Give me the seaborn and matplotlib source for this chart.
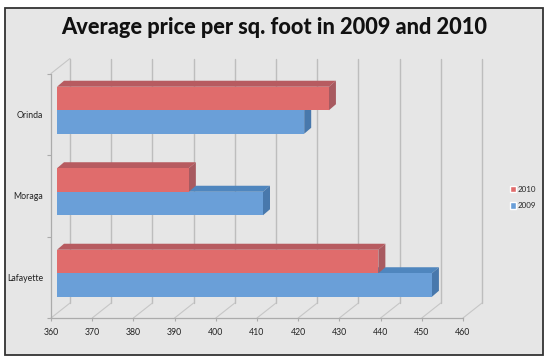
import matplotlib
matplotlib.use("Agg")
import matplotlib.pyplot as plt
import matplotlib.transforms as mtrans
from matplotlib.patches import Polygon, Rectangle
import pandas as pd
import seaborn as sns

cities = ["Orinda", "Moraga", "Lafayette"]
prices_2010 = [426, 392, 438]
prices_2009 = [420, 410, 451]
years = ["2010", "2009"]
title = "Average price per sq. foot in 2009 and 2010"
x_ticks = list(range(360, 461, 10))

W, H = 550, 360
FACE = {"2010": "#E06C6C", "2009": "#6A9FD8"}
TOP = {"2010": "#B75B60", "2009": "#4F86BE"}
SIDE = {"2010": "#A85A60", "2009": "#4878AC"}

sns.set_theme(style="white")
plt.rcParams["font.family"] = ["Lato", "DejaVu Sans"]

fig = plt.figure(figsize=(W / 100, H / 100), dpi=100, facecolor="white")
fig.add_artist(Rectangle((5 / W, 1 - 355 / H), 538 / W, 347.5 / H, transform=fig.transFigure,
                         facecolor="#E6E6E6", edgecolor="#333333", lw=1.3, zorder=-1))
ax = fig.add_axes([51 / W, 1 - 318 / H, 412 / W, 244.5 / H])
ax.patch.set_alpha(0)

df = pd.DataFrame({
    "city": cities * 2,
    "year": [years[0]] * 3 + [years[1]] * 3,
    "price": prices_2010 + prices_2009,
})
sns.barplot(data=df, y="city", x="price", hue="year", hue_order=years,
            palette=FACE, dodge=True, width=0.577, saturation=1, errorbar=None, ax=ax, zorder=5)
ax.set_xlim(360, 460)
ax.set_ylim(2.5, -0.5)
ax.set_xlabel("")
ax.set_ylabel("")
PIX = mtrans.IdentityTransform()


def px(dx, dy):
    return mtrans.ScaledTranslation(dx / 100, dy / 100, fig.dpi_scale_trans)


# 3-D look: bars sit in a plane shifted from the front axis (right and up)
plane = ax.transData + px(6, 4)
DX, DY = 7, 6
XMIN = x_ticks[0]
for cont, yr in zip(ax.containers, years):
    for bar in cont:
        x1 = bar.get_x() + bar.get_width()
        bar.set_x(XMIN)
        bar.set_width(x1 - XMIN)
        bar.set_transform(plane)
        bar.set_clip_on(False)
        bar.set_edgecolor("none")
        y0 = bar.get_y()
        y1 = y0 + bar.get_height()
        a = plane.transform
        tl, tr, br = tuple(a((XMIN, y0))), tuple(a((x1, y0))), tuple(a((x1, y1)))
        top = [tl, tr, (tr[0] + DX, tr[1] + DY), (tl[0] + DX, tl[1] + DY)]
        side = [tr, br, (br[0] + DX, br[1] + DY), (tr[0] + DX, tr[1] + DY)]
        z = 4 if yr == "2009" else 4.5
        ax.add_patch(Polygon(top, closed=True, transform=PIX, facecolor=TOP[yr], edgecolor="none", zorder=z, clip_on=False))
        ax.add_patch(Polygon(side, closed=True, transform=PIX, facecolor=SIDE[yr], edgecolor="none", zorder=z, clip_on=False))

# back wall gridlines and floor lines
base = ax.get_xaxis_transform()
back = base + px(19, 15)
for v in x_ticks:
    ax.plot([v, v], [0, 1], transform=back, color="#BDBDBD", lw=1.0, zorder=1, clip_on=False)
    fx, fy = base.transform((v, 0))
    ax.plot([fx, fx + 19], [fy, fy + 15], transform=PIX, color="#C6C6C6", lw=0.8, zorder=1, clip_on=False)
tx, ty = base.transform((360, 1))
ax.plot([tx, tx + 19], [ty, ty + 15], transform=PIX, color="#C6C6C6", lw=0.8, zorder=1, clip_on=False)

for s in ["top", "right"]:
    ax.spines[s].set_visible(False)
for s in ["left", "bottom"]:
    ax.spines[s].set_color("#ABABAB")
    ax.spines[s].set_linewidth(0.9)
ax.set_xticks(x_ticks)
ax.set_yticks([-0.5, 0.5, 1.5, 2.5], minor=True)
ax.tick_params(axis="y", which="minor", left=True, length=3, width=0.8, color="#ABABAB")
ax.tick_params(axis="y", which="major", left=False, length=0, pad=5.5, labelsize=6.3, labelcolor="#222222")
ax.tick_params(axis="x", bottom=True, length=2.5, width=0.8, color="#ABABAB", pad=4.5, labelsize=6.3, labelcolor="#222222")

if ax.get_legend():
    ax.get_legend().remove()
ax.legend([Rectangle((0, 0), 1, 1, facecolor=FACE[y]) for y in years], years, frameon=False,
          loc="center left", bbox_to_anchor=(510 / W, 1 - 197.5 / H), bbox_transform=fig.transFigure,
          fontsize=5.8, handlelength=0.8, handleheight=0.8, handletextpad=0.2,
          labelspacing=1.2, borderpad=0, borderaxespad=0)

fig.text(274 / W, 1 - 27.5 / H, title, ha="center", va="center", fontsize=15.7,
         fontweight=900, color="#111111", family=["Lato", "DejaVu Sans"])
fig.savefig("out.png", dpi=100, facecolor="white")
